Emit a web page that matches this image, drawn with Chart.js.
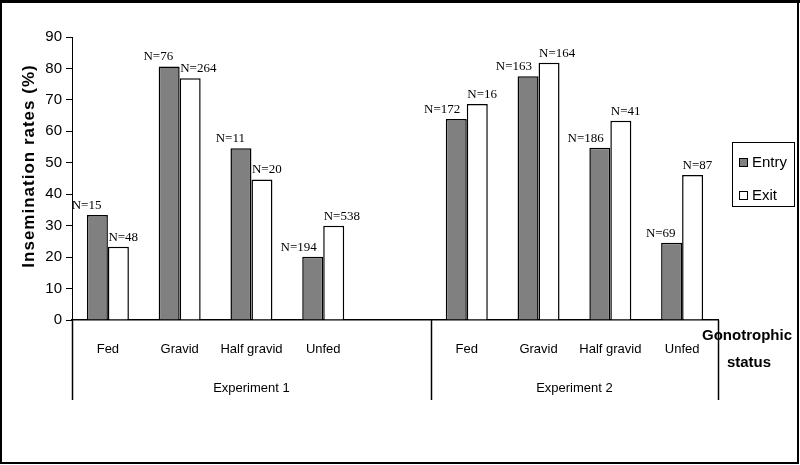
<!DOCTYPE html>
<html>
<head>
<meta charset="utf-8">
<script src="https://cdn.jsdelivr.net/npm/chart.js@4.4.1/dist/chart.umd.min.js"></script>
<style>
    html, body { margin: 0; padding: 0; background: #fff; }
    #wrap { width: 800px; height: 465px; }
</style>
</head>
<body>
<div id="wrap"><canvas id="chart" width="800" height="465"></canvas></div>
<script>
    'use strict';

    // Data
    const categories = ['Fed', 'Gravid', 'Half gravid', 'Unfed', '', 'Fed', 'Gravid', 'Half gravid', 'Unfed'];
    const entryRates = [33.4, 80.6, 54.6, 20.1, null, 63.9, 77.5, 54.8, 24.6];
    const exitRates = [23.3, 76.9, 44.7, 30.0, null, 68.7, 81.8, 63.4, 46.1];
    const entryN = ['N=15', 'N=76', 'N=11', 'N=194', null, 'N=172', 'N=163', 'N=186', 'N=69'];
    const exitN = ['N=48', 'N=264', 'N=20', 'N=538', null, 'N=16', 'N=164', 'N=41', 'N=87'];
    const groupLabels = ['Experiment 1', 'Experiment 2'];
    const groupSizes = [5, 4];
    const yTicks = [0, 10, 20, 30, 40, 50, 60, 70, 80, 90];
    const yTitle = 'Insemination rates (%)';

    const SANS = '"Liberation Sans", Arial, sans-serif';
    const SERIF = '"Liberation Serif", "Times New Roman", serif';

    // Frame round the whole picture
    const framePlugin = {
        id: 'frame',
        beforeDraw: function(chart) {
            const ctx = chart.ctx;
            ctx.save();
            ctx.fillStyle = '#fff';
            ctx.fillRect(0, 0, chart.width, chart.height);
            ctx.strokeStyle = '#000';
            ctx.lineWidth = 2;
            ctx.strokeRect(1, 1, chart.width - 3, chart.height - 3);
            ctx.fillRect(0, 0, 0, 0);
            ctx.beginPath();
            ctx.moveTo(0, 1.5);
            ctx.lineTo(chart.width, 1.5);
            ctx.lineWidth = 3;
            ctx.stroke();
            ctx.restore();
        }
    };

    // N= labels above the bars
    const nLabelPlugin = {
        id: 'nLabels',
        afterDatasetsDraw: function(chart) {
            const ctx = chart.ctx;
            const texts = [entryN, exitN];
            ctx.save();
            ctx.font = '13px ' + SERIF;
            ctx.fillStyle = '#000';
            ctx.textBaseline = 'bottom';
            chart.data.datasets.forEach(function(ds, di) {
                chart.getDatasetMeta(di).data.forEach(function(bar, i) {
                    const txt = texts[di][i];
                    if (!txt || ds.data[i] === null) return;
                    if (di === 0) {
                        ctx.textAlign = 'right';
                        ctx.fillText(txt, bar.x + 4, bar.y - 3);
                    } else {
                        ctx.textAlign = 'left';
                        ctx.fillText(txt, bar.x - 10, bar.y - 3);
                    }
                });
            });
            ctx.restore();
        }
    };

    // Group separators, experiment labels, axis captions and legend
    const groupPlugin = {
        id: 'groups',
        afterDraw: function(chart) {
            const ctx = chart.ctx;
            const x = chart.scales.x;
            const area = chart.chartArea;
            const slot = x.getPixelForValue(1) - x.getPixelForValue(0);
            ctx.save();
            ctx.strokeStyle = '#000';
            ctx.lineWidth = 1.5;
            ctx.fillStyle = '#000';
            ctx.font = '13px ' + SANS;
            ctx.textAlign = 'center';
            ctx.textBaseline = 'middle';

            let start = 0;
            const edges = [x.getPixelForValue(0) - slot / 2];
            groupSizes.forEach(function(size, g) {
                const end = start + size - 1;
                const left = x.getPixelForValue(start) - slot / 2;
                const right = x.getPixelForValue(end) + slot / 2;
                edges.push(right);
                ctx.fillText(groupLabels[g], (left + right) / 2, 388);
                start += size;
            });
            edges.forEach(function(px) {
                ctx.beginPath();
                ctx.moveTo(Math.round(px) + 0.5, area.bottom);
                ctx.lineTo(Math.round(px) + 0.5, 400);
                ctx.stroke();
            });

            // x caption
            ctx.font = 'bold 15px ' + SANS;
            ctx.fillText('Gonotrophic', 747, 336);
            ctx.fillText('status', 749, 363);

            // y caption
            ctx.save();
            ctx.translate(29, 166);
            ctx.rotate(-Math.PI / 2);
            ctx.font = 'bold 17px ' + SANS;
            ctx.letterSpacing = '1px';
            ctx.fillText(yTitle, 0, 0);
            ctx.restore();

            // legend
            ctx.lineWidth = 1;
            ctx.strokeRect(732.5, 142.5, 62, 64);
            ctx.font = '15px ' + SANS;
            ctx.textAlign = 'left';
            chart.data.datasets.forEach(function(ds, i) {
                const y = 163 + i * 33;
                ctx.fillStyle = ds.backgroundColor;
                ctx.fillRect(739.5, y - 4.5, 8, 8);
                ctx.strokeRect(739.5, y - 4.5, 8, 8);
                ctx.fillStyle = '#000';
                ctx.fillText(ds.label, 752, y);
            });
            ctx.restore();
        }
    };

    new Chart(document.getElementById('chart'), {
        type: 'bar',
        data: {
            labels: categories,
            datasets: [
                {
                    label: 'Entry',
                    data: entryRates,
                    backgroundColor: '#808080',
                    borderColor: '#000',
                    borderWidth: 1.5,
                    categoryPercentage: 0.585,
                    barPercentage: 1
                },
                {
                    label: 'Exit',
                    data: exitRates,
                    backgroundColor: '#ffffff',
                    borderColor: '#000',
                    borderWidth: 1.5,
                    categoryPercentage: 0.585,
                    barPercentage: 1
                }
            ]
        },
        options: {
            responsive: false,
            animation: false,
            layout: {
                padding: { left: 8, right: 82, top: 37, bottom: 0 }
            },
            plugins: {
                legend: { display: false },
                tooltip: { enabled: false }
            },
            scales: {
                x: {
                    afterFit: function(scale) { scale.height = 145; },
                    grid: { display: false, drawTicks: false },
                    border: { display: true, color: '#000', width: 1.5 },
                    ticks: {
                        color: '#000',
                        padding: 22,
                        maxRotation: 0,
                        autoSkip: false,
                        font: { family: SANS, size: 13 }
                    }
                },
                y: {
                    min: 0,
                    max: 90,
                    afterFit: function(scale) { scale.width = 64; },
                    afterBuildTicks: function(scale) {
                        scale.ticks = yTicks.map(function(v) { return { value: v }; });
                    },
                    grid: {
                        drawOnChartArea: false,
                        drawTicks: true,
                        tickLength: 6,
                        color: '#000'
                    },
                    border: { display: true, color: '#000', width: 1 },
                    ticks: {
                        color: '#000',
                        padding: 4,
                        font: { family: SANS, size: 15 }
                    }
                }
            }
        },
        plugins: [framePlugin, nLabelPlugin, groupPlugin]
    });
</script>
</body>
</html>
